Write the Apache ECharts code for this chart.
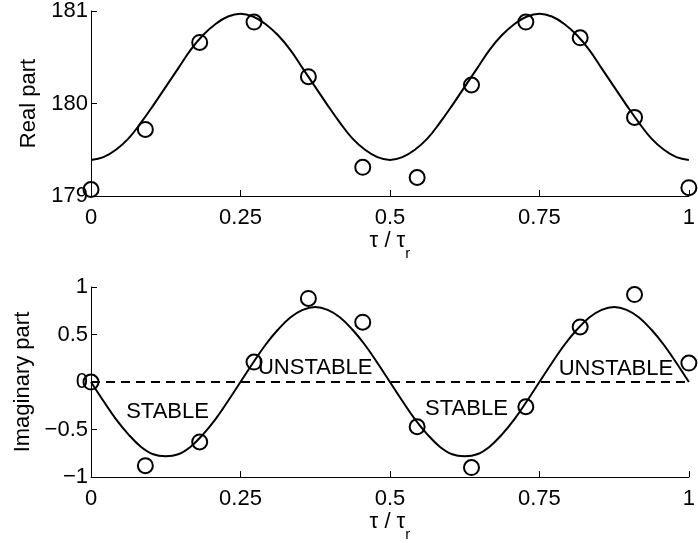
<!DOCTYPE html>
<html>
<head>
<meta charset="utf-8">
<script src="https://cdn.jsdelivr.net/npm/echarts@6/dist/echarts.min.js"></script>
<style>
  html, body { margin: 0; padding: 0; background: #fff; }
  #main { width: 698px; height: 543px; }
</style>
</head>
<body>
<div id="main"></div>
<script>
// sample positions (tau / tau_r)
var sampleX = [0, 0.0909, 0.1818, 0.2727, 0.3636, 0.4545, 0.5455, 0.6364, 0.7273, 0.8182, 0.9091, 1];
var realPts = [179.07, 179.72, 180.66, 180.88, 180.29, 179.31, 179.2, 180.2, 180.88, 180.71, 179.85, 179.09];
var imagPts = [0, -0.88, -0.63, 0.21, 0.88, 0.63, -0.47, -0.9, -0.26, 0.58, 0.92, 0.2];

// fitted curve, read at steps of 1/48
var curveX = [];
for (var k = 0; k <= 48; k++) curveX.push(k / 48);
var realCurve = [179.39, 179.42, 179.50, 179.62, 179.79, 179.98, 180.18, 180.38, 180.58, 180.74, 180.86, 180.94, 180.97,
  180.94, 180.86, 180.74, 180.58, 180.38, 180.18, 179.98, 179.79, 179.62, 179.50, 179.42, 179.39,
  179.42, 179.50, 179.62, 179.79, 179.98, 180.18, 180.38, 180.58, 180.74, 180.86, 180.94, 180.97,
  180.94, 180.86, 180.74, 180.58, 180.38, 180.18, 179.98, 179.79, 179.62, 179.50, 179.42, 179.39];
var imagCurve = [0, -0.20, -0.39, -0.55, -0.68, -0.76, -0.78, -0.76, -0.68, -0.55, -0.39, -0.20, 0,
  0.20, 0.39, 0.55, 0.68, 0.76, 0.79, 0.76, 0.68, 0.55, 0.39, 0.20, 0,
  -0.20, -0.39, -0.55, -0.68, -0.76, -0.78, -0.76, -0.68, -0.55, -0.39, -0.20, 0,
  0.20, 0.39, 0.55, 0.68, 0.76, 0.79, 0.76, 0.68, 0.55, 0.39, 0.20, 0];

var xTicks = ['0', '0.25', '0.5', '0.75', '1'];
var stability = [
  { name: 'STABLE', x: 0.128, y: -0.31 },
  { name: 'UNSTABLE', x: 0.375, y: 0.15 },
  { name: 'STABLE', x: 0.628, y: -0.28 },
  { name: 'UNSTABLE', x: 0.878, y: 0.14 }
];

var font = 'Liberation Sans, Arial, sans-serif';
var fs = 22;

function zip(xs, ys) {
  return xs.map(function (x, i) { return [x, ys[i]]; });
}

function xAxisOf(idx) {
  return {
    gridIndex: idx,
    type: 'value',
    min: 0, max: 1, interval: 0.25,
    name: '{t|τ / τ}{s|r}',
    nameLocation: 'middle',
    nameGap: 25,
    nameTextStyle: {
      rich: {
        t: { fontFamily: font, fontSize: fs, color: '#000', verticalAlign: 'top', lineHeight: 22 },
        s: { fontFamily: font, fontSize: 15, color: '#000', padding: [16, 0, 0, 0], verticalAlign: 'top', lineHeight: 16 }
      }
    },
    splitLine: { show: false },
    axisLine: { onZero: false, lineStyle: { color: '#000', width: 1 } },
    axisTick: { inside: true, length: 6, lineStyle: { color: '#000' } },
    axisLabel: {
      margin: 11, color: '#000', fontFamily: font, fontSize: fs,
      formatter: function (v) { return xTicks[Math.round(v * 4)]; }
    }
  };
}

function yAxisOf(idx, min, max, step, name, gap) {
  return {
    gridIndex: idx,
    type: 'value',
    min: min, max: max, interval: step,
    name: name,
    nameLocation: 'middle',
    nameGap: gap,
    nameTextStyle: { fontFamily: font, fontSize: fs, color: '#000' },
    splitLine: { show: false },
    axisLine: { show: true, lineStyle: { color: '#000', width: 1 } },
    axisTick: { inside: true, length: 6, lineStyle: { color: '#000' } },
    axisLabel: {
      margin: 3, color: '#000', fontFamily: font, fontSize: fs,
      formatter: function (v) { return String(v).replace('-', '\u2212'); }
    }
  };
}

var circleStyle = { color: 'transparent', borderColor: '#000', borderWidth: 2, opacity: 1 };

var myChart = echarts.init(document.getElementById('main'));
var option = {
  backgroundColor: '#fff',
  animation: false,
  grid: [
    { left: 91, right: 4, top: 10, height: 186 },
    { left: 91, right: 4, top: 287, height: 200 }
  ],
  xAxis: [xAxisOf(0), xAxisOf(1)],
  yAxis: [
    yAxisOf(0, 179, 181, 1, 'Real part', 50),
    yAxisOf(1, -1, 1, 0.5, 'Imaginary part', 57)
  ],
  series: [
    {
      type: 'line', xAxisIndex: 0, yAxisIndex: 0,
      data: zip(curveX, realCurve), smooth: 0.4, showSymbol: false,
      lineStyle: { color: '#000', width: 2 }
    },
    {
      type: 'scatter', xAxisIndex: 0, yAxisIndex: 0,
      data: zip(sampleX, realPts), symbol: 'circle', symbolSize: 15,
      itemStyle: circleStyle
    },
    {
      type: 'line', xAxisIndex: 1, yAxisIndex: 1,
      data: [[0, 0], [1, 0]], showSymbol: false,
      lineStyle: { color: '#000', width: 2, type: [9, 6] }
    },
    {
      type: 'line', xAxisIndex: 1, yAxisIndex: 1,
      data: zip(curveX, imagCurve), smooth: 0.4, showSymbol: false,
      lineStyle: { color: '#000', width: 2 }
    },
    {
      type: 'scatter', xAxisIndex: 1, yAxisIndex: 1,
      data: zip(sampleX, imagPts), symbol: 'circle', symbolSize: 15,
      itemStyle: circleStyle
    },
    {
      type: 'scatter', xAxisIndex: 1, yAxisIndex: 1,
      symbolSize: 0,
      itemStyle: { opacity: 1, color: 'transparent' },
      data: stability.map(function (d) { return { name: d.name, value: [d.x, d.y] }; }),
      label: {
        show: true, position: 'inside', formatter: '{b}',
        color: '#000', fontFamily: font, fontSize: fs,
        textBorderWidth: 0, textBorderColor: 'transparent'
      }
    }
  ]
};
myChart.setOption(option);
</script>
</body>
</html>
